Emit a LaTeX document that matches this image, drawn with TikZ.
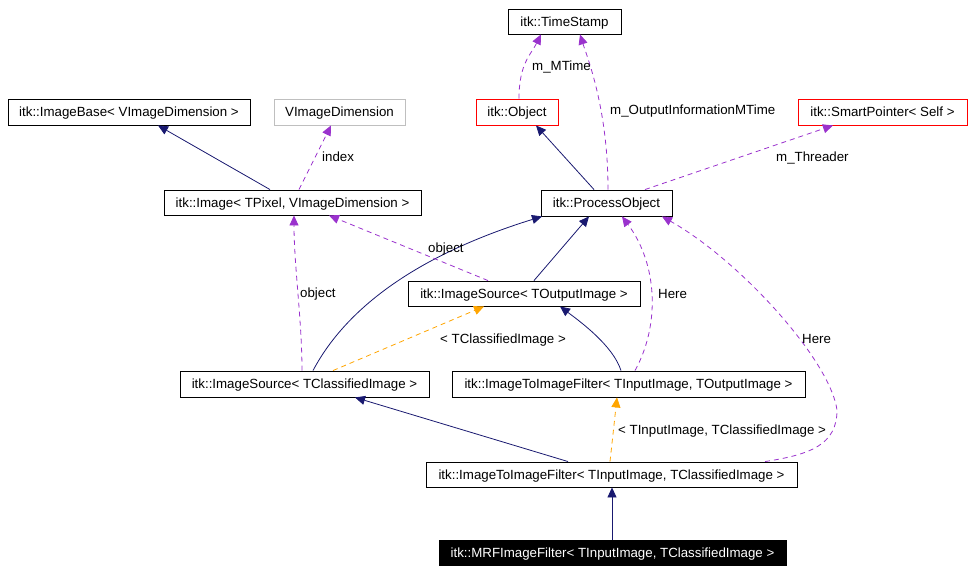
\documentclass[tikz,border=0pt]{standalone}
\usepackage{fontspec}
\setmainfont{Liberation Sans}
\usetikzlibrary{arrows.meta}
\definecolor{navy}{HTML}{191970}
\definecolor{purp}{HTML}{9A32CD}
\definecolor{orng}{HTML}{FFA500}
\definecolor{grayb}{HTML}{BFBFBF}
\tikzset{
  every node/.style={font=\fontsize{13.3}{16}\selectfont, inner sep=0pt},
  cls/.style={draw=black, line width=0.9pt, minimum height=25pt, align=center, text height=9.6pt, text depth=0pt},
  redcls/.style={cls, draw=red},
  graycls/.style={cls, draw=grayb},
  blackcls/.style={cls, fill=black, text=white},
  lbl/.style={anchor=base west},
  inh/.style={draw=navy, line width=0.8pt, -{Triangle[length=10pt,width=9pt,fill=navy]}},
  use/.style={draw=purp, line width=0.8pt, dash pattern=on 5pt off 4pt, -{Triangle[length=10pt,width=9pt,fill=purp]}},
  tmpl/.style={draw=orng, line width=0.8pt, dash pattern=on 5pt off 4pt, -{Triangle[length=10pt,width=9pt,fill=orng]}}
}
\begin{document}
\begin{tikzpicture}[x=1pt,y=-1pt]
\useasboundingbox (0,0) rectangle (974,572);
% nodes
\node[cls, minimum width=113pt] (ts) at (564.5,21.5) {itk::TimeStamp};
\node[cls, minimum width=242pt, minimum height=26pt] (ib) at (129,112) {itk::ImageBase< VImageDimension >};
\node[graycls, minimum width=131pt, minimum height=26pt] (vid) at (339.5,112) {VImageDimension};
\node[redcls, minimum width=82pt, minimum height=26pt] (obj) at (517,112) {itk::Object};
\node[redcls, minimum width=169pt, minimum height=26pt] (sp) at (882.5,112) {itk::SmartPointer< Self >};
\node[cls, minimum width=257pt] (img) at (292.5,202.5) {itk::Image< TPixel, VImageDimension >};
\node[cls, minimum width=131pt, minimum height=26pt] (po) at (606.5,203) {itk::ProcessObject};
\node[cls, minimum width=232pt] (iso) at (524,293.5) {itk::ImageSource< TOutputImage >};
\node[cls, minimum width=249pt, minimum height=26pt] (isc) at (304.5,384) {itk::ImageSource< TClassifiedImage >};
\node[cls, minimum width=353pt, minimum height=26pt] (itio) at (628.5,384) {itk::ImageToImageFilter< TInputImage, TOutputImage >};
\node[cls, minimum width=371pt] (itic) at (611.5,474.5) {itk::ImageToImageFilter< TInputImage, TClassifiedImage >};
\node[blackcls, minimum width=347pt] (mrf) at (612.5,552.5) {itk::MRFImageFilter< TInputImage, TClassifiedImage >};
% edges
\draw[inh] ([xshift=-22.5pt]img.north) -- ([xshift=29pt]ib.south);
\draw[use] ([xshift=6.5pt]img.north) -- ([xshift=-8.5pt]vid.south);
\draw[use] ([xshift=2pt]obj.north) .. controls +(0,-35) and +(-10,20) .. ([xshift=-23.5pt]ts.south);
\draw[use] ([xshift=1.5pt]po.north) .. controls +(0,-80) and +(8,25) .. ([xshift=15.5pt]ts.south);
\draw[inh] ([xshift=-12.5pt]po.north) -- ([xshift=19pt]obj.south);
\draw[use] ([xshift=38.5pt]po.north) -- ([xshift=-49.5pt]sp.south);
\draw[inh] ([xshift=10pt]iso.north) -- ([xshift=-17.5pt]po.south);
\draw[inh] ([xshift=8.5pt]isc.north) .. controls +(27,-51) and +(-142,44) .. ([xshift=-64.5pt]po.south);
\draw[use] ([xshift=-36pt]iso.north) -- ([xshift=36.5pt]img.south);
\draw[use] ([xshift=-2.5pt]isc.north) .. controls +(0,-50) and +(0,50) .. ([xshift=1.5pt]img.south);
\draw[tmpl] ([xshift=28.5pt]isc.north) -- ([xshift=-40pt]iso.south);
\draw[inh] ([xshift=-7.5pt]itio.north) .. controls +(-8,-25) and +(20,15) .. ([xshift=36pt]iso.south);
\draw[use] ([xshift=6.5pt]itio.north) .. controls +(25,-45) and +(36,48) .. ([xshift=15.5pt]po.south);
\coordinate (hb) at (837,410);
\draw[use] ([xshift=153.5pt]itic.north) .. controls +(45,-7) and +(0,35) .. (hb) .. controls +(-7,-50) and +(78,44) .. ([xshift=55.5pt]po.south);
\draw[inh] ([xshift=-43.5pt]itic.north) -- ([xshift=50.5pt]isc.south);
\draw[tmpl] ([xshift=-1.5pt]itic.north) -- ([xshift=-11.5pt]itio.south);
\draw[inh] ([xshift=-0.5pt]mrf.north) -- ([xshift=0.5pt]itic.south);
% labels
\node[lbl] (l1) at (322,162) {index};
\node[lbl] (l2) at (532,71) {m\_MTime};
\node[lbl] (l3) at (610,115) {m\_OutputInformationMTime};
\node[lbl] (l4) at (776,162) {m\_Threader};
\node[lbl] (l5) at (428,252) {object};
\node[lbl] (l6) at (300,297) {object};
\node[lbl] (l7) at (440,343) {< TClassifiedImage >};
\node[lbl] (l8) at (658,298) {Here};
\node[lbl] (l9) at (802,343) {Here};
\node[lbl] (l10) at (618,434) {< TInputImage, TClassifiedImage >};
\end{tikzpicture}
\end{document}
